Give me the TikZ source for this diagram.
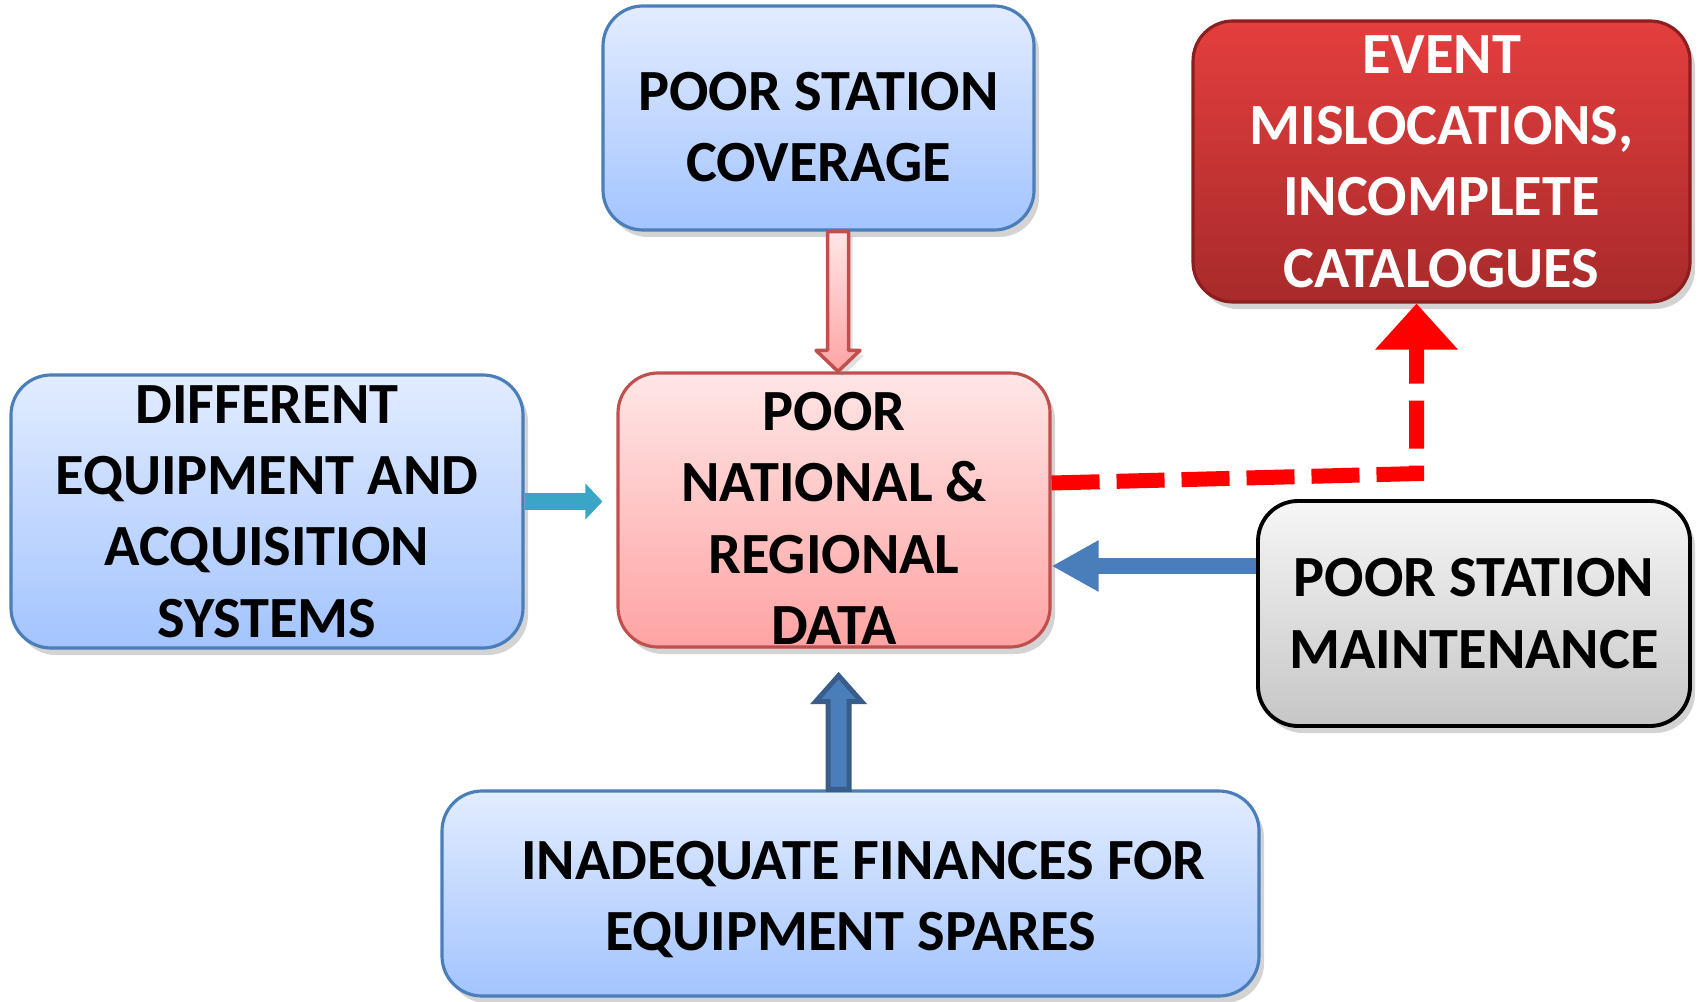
\documentclass[tikz,border=0pt]{standalone}
\usepackage{fontspec}
\setmainfont{Carlito}
\usetikzlibrary{calc,shadows,arrows.meta}

\definecolor{blueTop}{RGB}{226,236,255}
\definecolor{blueBot}{RGB}{163,196,255}
\definecolor{blueLine}{HTML}{4A7EBB}
\definecolor{pinkTop}{RGB}{255,230,230}
\definecolor{pinkBot}{RGB}{255,163,163}
\definecolor{pinkLine}{HTML}{C0504D}
\definecolor{redTop}{RGB}{228,62,62}
\definecolor{redBot}{RGB}{168,42,42}
\definecolor{redLine}{RGB}{140,30,30}
\definecolor{greyTop}{RGB}{246,246,246}
\definecolor{greyBot}{RGB}{198,198,198}
\definecolor{aquaArrow}{RGB}{58,165,196}
\definecolor{navyLine}{HTML}{385D8A}

\begin{document}
\begin{tikzpicture}[line join=round,
	font=\bfseries\fontsize{16.6pt}{20.3pt}\selectfont,
	box/.style={rounded corners=0.4cm, align=center, inner sep=0pt,
		drop shadow={shadow xshift=0.05cm, shadow yshift=-0.07cm, opacity=0.35}},
	bluebox/.style={box, draw=blueLine, line width=0.9pt, top color=blueTop, bottom color=blueBot},
	pinkbox/.style={box, draw=pinkLine, line width=0.9pt, top color=pinkTop, bottom color=pinkBot},
	redbox/.style={box, draw=redLine, line width=0.9pt, top color=redTop, bottom color=redBot, text=white},
	greybox/.style={box, draw=black, line width=1.1pt, top color=greyTop, bottom color=greyBot},
	aquaarrow/.style={aquaArrow, line width=0.17cm, -{Triangle[width=0.35cm, length=0.17cm]}},
	bluearrow/.style={blueLine, line width=0.16cm, -{Triangle[width=0.48cm, length=0.47cm]}},
	reddash/.style={red, line width=0.15cm, line join=miter, dash pattern=on 0.48cm off 0.17cm,
		-{Triangle[width=0.8cm, length=0.46cm]}}]
	\useasboundingbox (0,0) rectangle (16.98,10.01);
	%\draw[gray!40] (0,0) grid (17,10);

	\node[bluebox, minimum width=4.31cm, minimum height=2.24cm] (cover) at (8.185,8.83)
		{\rule{0pt}{0.57cm}POOR STATION\\COVERAGE};
	\node[redbox, minimum width=4.97cm, minimum height=2.81cm] (event) at (14.415,8.395)
		{EVENT\\MISLOCATIONS,\\INCOMPLETE\\CATALOGUES};
	\node[bluebox, minimum width=5.12cm, minimum height=2.73cm] (equip) at (2.67,4.895)
		{DIFFERENT\\EQUIPMENT AND\\ACQUISITION\\SYSTEMS};
	\node[pinkbox, minimum width=4.32cm, minimum height=2.74cm] (data) at (8.34,4.91)
		{\rule{0pt}{0.55cm}POOR\\NATIONAL \&\\REGIONAL\\DATA};
	\node[greybox, minimum width=4.32cm, minimum height=2.25cm] (maint) at (14.74,3.875)
		{POOR STATION\\MAINTENANCE};
	\node[bluebox, minimum width=8.17cm, minimum height=2.05cm] (fin) at (8.505,1.075)
		{\rule{0pt}{0.5cm}\hspace*{0.26cm}INADEQUATE FINANCES FOR\\EQUIPMENT SPARES};

	% cover -> data
	\coordinate (pTip) at ($(data.north)+(0.04,0)$);
	\coordinate (pTop) at (pTip |- cover.south);
	\path[draw=pinkLine, line width=1pt, top color=pinkTop, bottom color=pinkBot,
		drop shadow={shadow xshift=0.04cm, shadow yshift=-0.05cm, opacity=0.25}]
		($(pTop)+(-0.105,0)$) -- ($(pTop)+(0.105,0)$) -- ($(pTip)+(0.105,0.21)$)
		-- ($(pTip)+(0.22,0.21)$) -- (pTip) -- ($(pTip)+(-0.22,0.21)$)
		-- ($(pTip)+(-0.105,0.21)$) -- cycle;

	% fin -> data
	\coordinate (uTip) at ($(data.south)+(0.046,-0.27)$);
	\coordinate (uBot) at (uTip |- fin.north);
	\filldraw[draw=navyLine, fill=blueLine, line width=1.4pt, line join=miter]
		($(uBot)+(-0.105,0)$) -- ($(uBot)+(0.105,0)$) -- ($(uTip)+(0.105,-0.26)$)
		-- ($(uTip)+(0.23,-0.26)$) -- (uTip) -- ($(uTip)+(-0.23,-0.26)$)
		-- ($(uTip)+(-0.105,-0.26)$) -- cycle;

	% equip -> data
	\coordinate (aS) at ($(equip.east)+(0,0.1)$);
	\draw[aquaarrow] (aS) -- ($(aS -| data.west)+(-0.14,0)$);

	% maint -> data
	\coordinate (bS) at ($(maint.west)+(0,0.475)$);
	\draw[bluearrow] (bS) -- (bS -| data.east);

	% data -> event
	\coordinate (rS) at ($(data.east)+(0,0.27)$);
	\coordinate (rC) at ($(event.south)+(-0.25,-1.70)$);
	\draw[reddash] (rS) -- (rC) -- (rC |- event.south);
\end{tikzpicture}
\end{document}
